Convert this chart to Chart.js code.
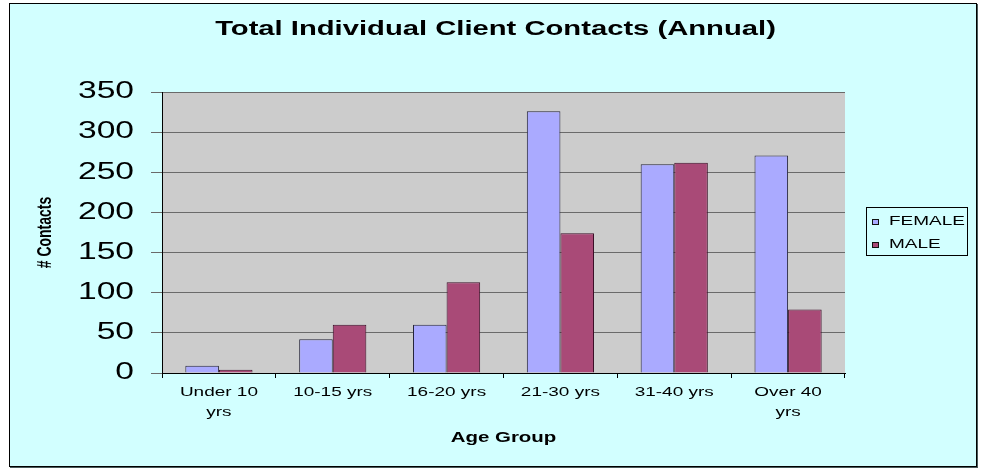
<!DOCTYPE html>
<html><head><meta charset="utf-8">
<script src="https://cdn.jsdelivr.net/npm/chart.js@4/dist/chart.umd.min.js"></script>
<style>html,body{margin:0;padding:0;background:#fff}canvas{display:block}</style>
</head><body>
<canvas id="c" width="981" height="469"></canvas>
<script>
// ---- data ----
const categories = [["Under 10", "yrs"], "10-15 yrs", "16-20 yrs", "21-30 yrs", "31-40 yrs", ["Over 40", "yrs"]];
const femaleValues = [9, 42, 60, 326, 260, 271];
const maleValues = [4, 60, 113, 174, 262, 79];
const seriesNames = ["FEMALE", "MALE"];
const yMin = 0, yMax = 350, yStep = 50;
const titleText = "Total Individual Client Contacts (Annual)";
const xTitleText = "Age Group";
const yTitleText = "# Contacts";

// ---- style ----
const BG = "#D2FFFF";
const PLOT_BG = "#CCCCCC";
const FEMALE_COLOR = "#AAAAFF";
const MALE_COLOR = "#A94A77";
const STRETCH = 1.46; // reference text is horizontally stretched
const FONT = "'Liberation Sans', Arial, sans-serif";

const canvas = document.getElementById("c");
const ctx = canvas.getContext("2d");
// stretch all text horizontally (device x direction) like the reference
(function () {
  const mt = ctx.measureText.bind(ctx);
  const ft = CanvasRenderingContext2D.prototype.fillText;
  ctx.measureText = function (t) {
    const m = mt(t);
    return {
      width: m.width * STRETCH,
      actualBoundingBoxAscent: m.actualBoundingBoxAscent,
      actualBoundingBoxDescent: m.actualBoundingBoxDescent,
      actualBoundingBoxLeft: m.actualBoundingBoxLeft * STRETCH,
      actualBoundingBoxRight: m.actualBoundingBoxRight * STRETCH,
      fontBoundingBoxAscent: m.fontBoundingBoxAscent,
      fontBoundingBoxDescent: m.fontBoundingBoxDescent
    };
  };
  ctx.fillText = function (t, x, y, mw) {
    const M = this.getTransform();
    const p = M.transformPoint(new DOMPoint(x, y));
    const D = new DOMMatrix().translate(p.x, p.y).scale(STRETCH, 1).translate(-p.x, -p.y).multiply(M);
    this.setTransform(D);
    if (mw === undefined || mw === null) ft.call(this, t, x, y);
    else ft.call(this, t, x, y, mw / STRETCH);
    this.setTransform(M);
  };
})();

const backgroundPlugin = {
  id: "bg",
  beforeDraw(chart) {
    const c = chart.ctx, a = chart.chartArea;
    c.save();
    c.fillStyle = "#fff";
    c.fillRect(0, 0, chart.width, chart.height);
    c.fillStyle = BG;
    c.fillRect(9, 3, 968, 464);
    c.strokeStyle = "#000";
    c.lineWidth = 1;
    c.strokeRect(9.5, 3.5, 967, 463);
    c.strokeStyle = "#4a5a5a";
    c.beginPath();
    c.moveTo(10, 467.5); c.lineTo(978, 467.5);
    c.moveTo(977.5, 4); c.lineTo(977.5, 468);
    c.stroke();
    c.fillStyle = PLOT_BG;
    c.fillRect(a.left, a.top, a.right - a.left, a.bottom - a.top);
    c.restore();
  }
};

const legendPlugin = {
  id: "boxLegend",
  afterDraw(chart) {
    const c = chart.ctx;
    c.save();
    c.fillStyle = BG;
    c.fillRect(866, 207, 102, 49);
    c.strokeStyle = "#000";
    c.lineWidth = 1;
    c.strokeRect(866.5, 207.5, 101, 48);
    c.font = "13px " + FONT;
    c.textBaseline = "middle";
    c.textAlign = "left";
    chart.data.datasets.forEach((ds, i) => {
      const cy = 221 + i * 23;
      c.fillStyle = ds.backgroundColor;
      c.fillRect(872, cy - 2, 7, 6);
      c.strokeStyle = "#111";
      c.strokeRect(872.5, cy - 1.5, 6, 5);
      c.fillStyle = "#000";
      c.fillText(ds.label, 889, cy);
    });
    c.restore();
  }
};

Chart.defaults.font.family = FONT;
Chart.defaults.color = "#000";

new Chart(ctx, {
  type: "bar",
  data: {
    labels: categories,
    datasets: [
      { label: seriesNames[0], data: femaleValues, backgroundColor: FEMALE_COLOR, borderColor: "#25253a", borderWidth: 1 },
      { label: seriesNames[1], data: maleValues, backgroundColor: MALE_COLOR, borderColor: "#3c0f28", borderWidth: 1 }
    ]
  },
  options: {
    responsive: false,
    animation: false,
    devicePixelRatio: 1,
    layout: { padding: { left: 10, right: 0, top: 0, bottom: 0 } },
    datasets: { bar: { categoryPercentage: 0.59, barPercentage: 1.0 } },
    plugins: {
      legend: { display: false },
      tooltip: { enabled: false },
      title: {
        display: true,
        text: titleText,
        color: "#000",
        font: { size: 20, weight: "bold" },
        padding: { top: 17, bottom: 51 }
      }
    },
    scales: {
      x: {
        grid: { offset: true, drawOnChartArea: false, color: "#000", tickLength: 5 },
        border: { color: "#000", width: 1 },
        ticks: { font: { size: 13, lineHeight: 1.5 }, color: "#000", padding: 5, maxRotation: 0, autoSkip: false },
        title: { display: true, text: xTitleText, color: "#000", font: { size: 14, weight: "bold" }, padding: { top: 0, bottom: 22 } },
        afterFit(s) { s.height = 96; }
      },
      y: {
        min: yMin, max: yMax,
        ticks: { stepSize: yStep, font: { size: 23 }, color: "#000", padding: 17 },
        grid: { color: "#6a6a6a", lineWidth: 1, tickLength: 11 },
        border: { color: "#000", width: 1 },
        title: { display: true, text: yTitleText, color: "#000", font: { size: 14, weight: "bold" }, padding: { top: 27, bottom: 0 } },
        afterFit(s) { s.width = 152; }
      },
      yR: {
        type: "linear",
        position: "right",
        display: true,
        grid: { display: false },
        ticks: { display: false },
        border: { display: false },
        afterFit(s) { s.width = 136; }
      }
    }
  },
  plugins: [backgroundPlugin, legendPlugin]
});
</script>
</body></html>
